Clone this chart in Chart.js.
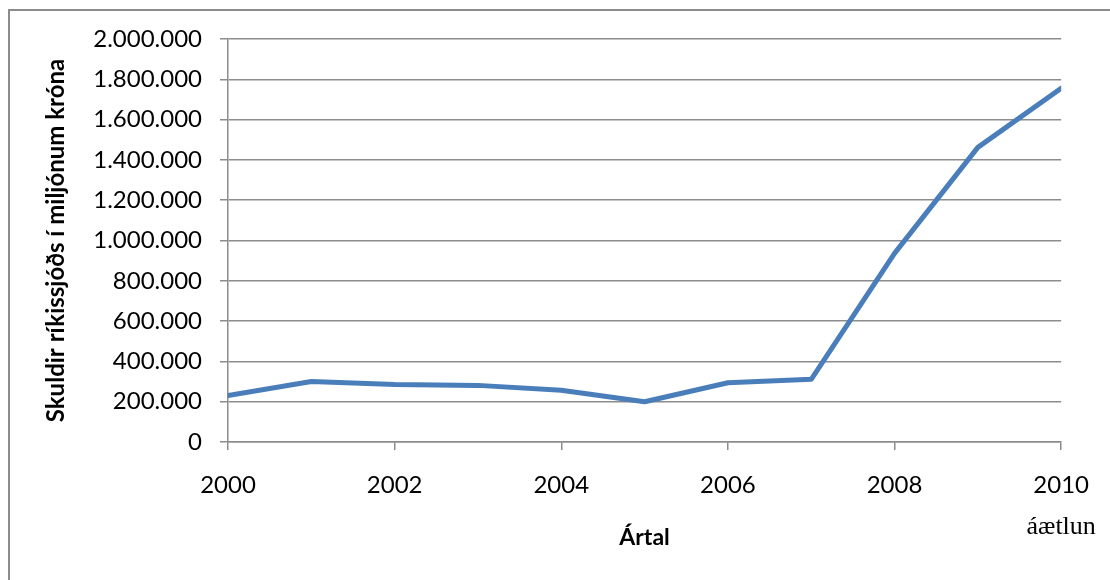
<!DOCTYPE html>
<html>
<head>
<meta charset="utf-8">
<script src="https://cdn.jsdelivr.net/npm/chart.js@4/dist/chart.umd.min.js"></script>
<style>
    html, body { margin: 0; padding: 0; background: #fff; }
    #wrap { position: relative; width: 1110px; height: 580px; overflow: hidden; }
    #frame { position: absolute; left: 8px; top: 9px; width: 1200px; height: 700px;
             border-left: 2px solid #8c8c8c; border-top: 2px solid #8c8c8c; }
    #chart { position: absolute; left: 0; top: 0; }
</style>
</head>
<body>
<div id="wrap">
    <div id="frame"></div>
    <canvas id="chart" width="1110" height="580"></canvas>
</div>
<script>
// data (millions of ISK)
const years = [2000, 2001, 2002, 2003, 2004, 2005, 2006, 2007, 2008, 2009, 2010];
const debt = [230000, 300000, 285000, 281000, 257000, 200000, 294000, 311000, 936000, 1462000, 1756000];

const yTitle = 'Skuldir ríkissjóðs í miljónum króna';
const xTitle = 'Ártal';
const lastNote = 'áætlun'; // under the 2010 tick

const GRID = '#8c8c8c';
const FONT = 'Lato, "Open Sans", sans-serif';

const fmt = v => String(v).replace(/\B(?=(\d{3})+(?!\d))/g, '.');

// small note printed under the last year label
const notePlugin = {
    id: 'note',
    afterDraw: (chart) => {
        const ctx = chart.ctx;
        const x = chart.scales.x.getPixelForValue(years[years.length - 1]);
        ctx.save();
        ctx.font = '26px "Liberation Serif", "DejaVu Serif", serif';
        ctx.fillStyle = '#000';
        ctx.textAlign = 'center';
        ctx.textBaseline = 'alphabetic';
        ctx.fillText(lastNote, x, chart.scales.x.top + 92);
        ctx.restore();
    }
};

new Chart(document.getElementById('chart').getContext('2d'), {
    type: 'line',
    data: {
        datasets: [{
            data: years.map((y, i) => ({ x: y, y: debt[i] })),
            borderColor: '#4A7EBB',
            borderWidth: 5,
            pointRadius: 0,
            tension: 0,
            borderCapStyle: 'round',
            borderJoinStyle: 'round'
        }]
    },
    options: {
        responsive: false,
        animation: false,
        layout: { padding: { top: 39, right: 47, left: 0, bottom: 0 } },
        plugins: { legend: { display: false }, tooltip: { enabled: false } },
        scales: {
            x: {
                type: 'linear',
                min: 2000,
                max: 2010,
                afterFit: (s) => { s.height = 138; },
                ticks: {
                    stepSize: 2,
                    padding: 21,
                    color: '#000',
                    font: { family: FONT, size: 24 },
                    callback: (v) => String(v)
                },
                grid: { drawOnChartArea: false, drawTicks: true, tickLength: 8, color: GRID, lineWidth: 1.5 },
                border: { display: true, color: GRID, width: 1.5 },
                title: {
                    display: true,
                    text: xTitle,
                    color: '#000',
                    font: { family: FONT, size: 23, weight: 'bold' },
                    padding: { top: 0, bottom: 29 }
                }
            },
            y: {
                min: 0,
                max: 2000000,
                afterFit: (s) => { s.width = 228; },
                ticks: {
                    stepSize: 200000,
                    padding: 18,
                    color: '#000',
                    font: { family: FONT, size: 24 },
                    callback: (v) => fmt(v)
                },
                grid: { color: GRID, lineWidth: 1.5, tickLength: 8 },
                border: { display: true, color: GRID, width: 1.5 },
                title: {
                    display: true,
                    text: yTitle,
                    color: '#000',
                    font: { family: FONT, size: 24, weight: 'bold' },
                    padding: { top: 42, bottom: 0 }
                }
            }
        }
    },
    plugins: [notePlugin]
});
</script>
</body>
</html>
